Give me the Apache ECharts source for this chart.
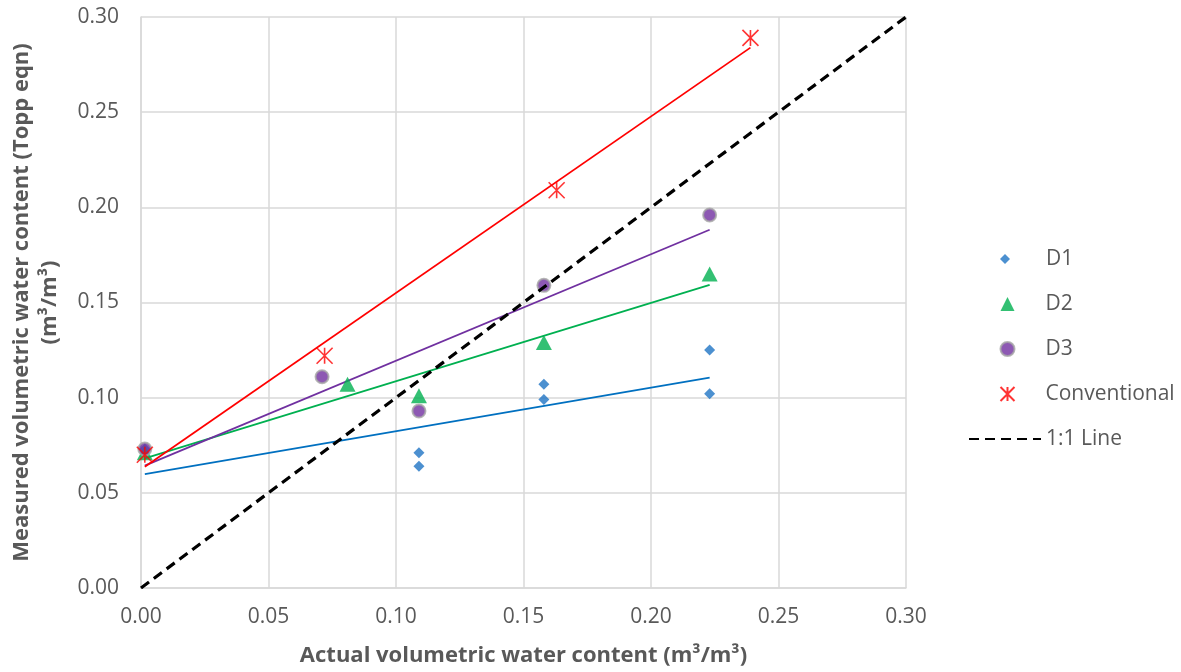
<!DOCTYPE html>
<html>
<head>
<meta charset="utf-8">
<script src="https://cdn.jsdelivr.net/npm/echarts@6/dist/echarts.min.js"></script>
<style>
  html, body { margin: 0; padding: 0; background: #ffffff; }
  #chart { width: 1181px; height: 672px; }
</style>
</head>
<body>
<div id="chart"></div>
<script>
// Actual vs measured volumetric water content (m3/m3)
const actualD1 = [0.0015, 0.109, 0.109, 0.158, 0.158, 0.223, 0.223];
const measuredD1 = [0.073, 0.071, 0.064, 0.107, 0.099, 0.125, 0.102];

const actualD2 = [0.0015, 0.081, 0.109, 0.158, 0.223];
const measuredD2 = [0.071, 0.107, 0.101, 0.129, 0.165];

const actualD3 = [0.0015, 0.071, 0.109, 0.158, 0.223];
const measuredD3 = [0.073, 0.111, 0.093, 0.159, 0.196];

const actualConv = [0.0015, 0.072, 0.163, 0.239];
const measuredConv = [0.070, 0.122, 0.209, 0.289];

const oneToOne = [0, 0.30];

const axisTicks = ['0.00', '0.05', '0.10', '0.15', '0.20', '0.25', '0.30'];

const FONT = '"Open Sans", "Liberation Sans", sans-serif';
const TEXT = '#595959';
const GRID = '#d9d9d9';

function pairs(xs, ys) { return xs.map((x, i) => [x, ys[i]]); }

// Least-squares linear trendline across the data's x range
function trend(xs, ys) {
  const n = xs.length;
  const mx = xs.reduce((a, b) => a + b, 0) / n;
  const my = ys.reduce((a, b) => a + b, 0) / n;
  let sxy = 0, sxx = 0;
  for (let i = 0; i < n; i++) {
    sxy += (xs[i] - mx) * (ys[i] - my);
    sxx += (xs[i] - mx) * (xs[i] - mx);
  }
  const b = sxy / sxx, a = my - b * mx;
  const x0 = Math.min(...xs), x1 = Math.max(...xs);
  return [[x0, a + b * x0], [x1, a + b * x1]];
}

function trendSeries(name, xs, ys, color) {
  return {
    name: name, type: 'line', data: trend(xs, ys), symbol: 'none',
    lineStyle: { color: color, width: 1.8 }, silent: true, z: 3
  };
}

const asterisk = 'path://M0,0L10,10M10,0L0,10M5,0L5,10';

// Legend blocks share a text column; marker icons sit centred on x = 1005
const legendText = (padLeft) => ({
  color: TEXT, fontSize: 21, fontFamily: FONT, lineHeight: 22,
  padding: [0, 0, 0, padLeft]
});

const chart = echarts.init(document.getElementById('chart'), null, { renderer: 'canvas' });

chart.setOption({
  animation: false,
  backgroundColor: '#ffffff',
  textStyle: { fontFamily: FONT },
  grid: { left: 141, right: 275, top: 17, bottom: 84, containLabel: false },
  xAxis: {
    type: 'value', min: 0, max: 0.30, interval: 0.05,
    name: 'Actual volumetric water content (m³/m³)',
    nameLocation: 'middle', nameGap: 57,
    nameTextStyle: { color: TEXT, fontSize: 22, fontWeight: 'bold', fontFamily: FONT },
    axisLine: { show: true, lineStyle: { color: GRID, width: 1.5 } },
    axisTick: { show: false },
    axisLabel: {
      color: TEXT, fontSize: 21, fontFamily: FONT, margin: 19,
      formatter: (v) => axisTicks[Math.round(v / 0.05)]
    },
    splitLine: { show: true, lineStyle: { color: GRID, width: 1.5 } }
  },
  yAxis: {
    type: 'value', min: 0, max: 0.30, interval: 0.05,
    name: 'Measured volumetric water content (Topp eqn)\n(m³/m³)',
    nameLocation: 'middle', nameGap: 77, nameRotate: 90,
    nameTextStyle: { color: TEXT, fontSize: 22, fontWeight: 'bold', fontFamily: FONT, lineHeight: 28, align: 'center' },
    axisLine: { show: true, lineStyle: { color: GRID, width: 1.5 } },
    axisTick: { show: false },
    axisLabel: {
      color: TEXT, fontSize: 21, fontFamily: FONT, margin: 22,
      formatter: (v) => axisTicks[Math.round(v / 0.05)]
    },
    splitLine: { show: true, lineStyle: { color: GRID, width: 1.5 } }
  },
  legend: [
    {
      orient: 'vertical', left: 1000, top: 248, padding: 0,
      itemWidth: 10, itemHeight: 10, itemGap: 23,
      textStyle: legendText(31),
      data: ['D1']
    },
    {
      orient: 'vertical', left: 998, top: 293, padding: 0,
      itemWidth: 14, itemHeight: 14, itemGap: 23,
      textStyle: legendText(26),
      data: ['D2', 'D3', 'Conventional']
    },
    {
      orient: 'vertical', left: 968, top: 428, padding: 0,
      itemWidth: 72, itemHeight: 14, itemGap: 23,
      textStyle: legendText(0),
      data: [{ name: '1:1 Line', itemStyle: { opacity: 0 } }]
    }
  ],
  series: [
    trendSeries('D1 trend', actualD1, measuredD1, '#0070C0'),
    trendSeries('D2 trend', actualD2, measuredD2, '#00B050'),
    trendSeries('D3 trend', actualD3, measuredD3, '#7030A0'),
    trendSeries('Conventional trend', actualConv, measuredConv, '#FF0000'),
    {
      name: 'D1', type: 'scatter', data: pairs(actualD1, measuredD1),
      symbol: 'diamond', symbolSize: 11, z: 4,
      itemStyle: { color: '#1F74C4' }
    },
    {
      name: 'D2', type: 'scatter', data: pairs(actualD2, measuredD2),
      symbol: 'triangle', symbolSize: [16, 15], z: 4,
      itemStyle: { color: '#00B050' }
    },
    {
      name: 'D3', type: 'scatter', data: pairs(actualD3, measuredD3),
      symbol: 'circle', symbolSize: 13, z: 4,
      itemStyle: { color: '#7030A0', borderColor: '#A5A5A5', borderWidth: 2 }
    },
    {
      name: 'Conventional', type: 'scatter', data: pairs(actualConv, measuredConv),
      symbol: asterisk, symbolSize: 16, z: 5,
      itemStyle: { color: 'none', borderColor: '#FF0000', borderWidth: 1.6 }
    },
    {
      name: '1:1 Line', type: 'line', data: pairs(oneToOne, oneToOne),
      symbol: 'none', z: 6,
      itemStyle: { color: '#000000' },
      lineStyle: { color: '#000000', width: 3.2, type: [10, 6] }
    }
  ]
});
</script>
</body>
</html>
